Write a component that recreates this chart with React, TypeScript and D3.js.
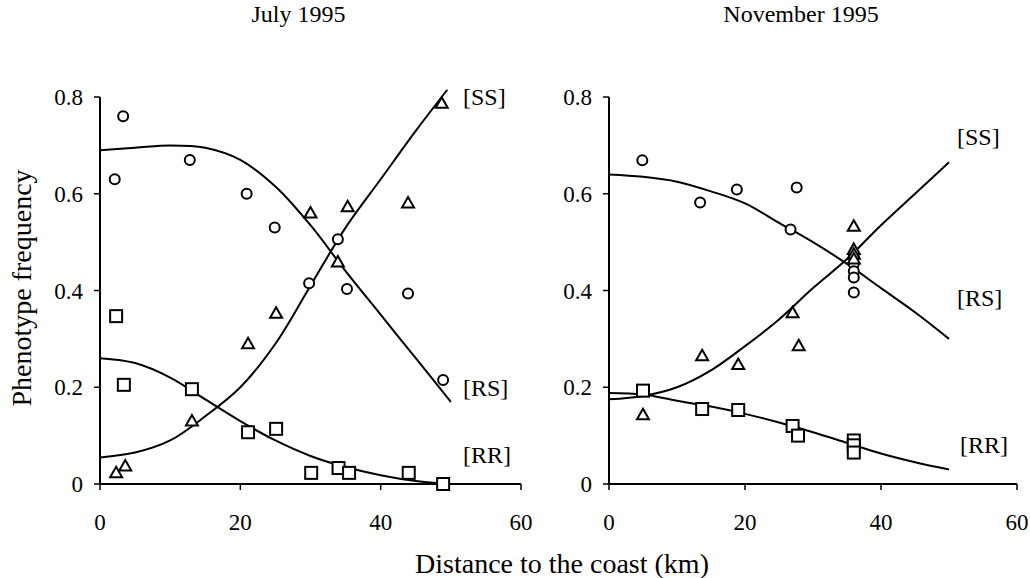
import React from "react";
import * as d3 from "d3";

// tick values
const xTicks = [0, 20, 40, 60];
const yTicks = [0, 0.2, 0.4, 0.6, 0.8];
const yTickLabels = ["0", "0.2", "0.4", "0.6", "0.8"];

// July 1995 observations [km, frequency]
const julyRS = [[2.1, 0.63], [3.3, 0.76], [12.8, 0.67], [20.9, 0.6], [24.9, 0.53], [29.8, 0.415], [33.9, 0.506], [35.2, 0.403], [43.9, 0.394], [48.9, 0.215]];
const julySS = [[2.3, 0.023], [3.6, 0.037], [13.1, 0.13], [21.1, 0.29], [25.1, 0.353], [30, 0.56], [33.9, 0.459], [35.3, 0.573], [43.9, 0.581], [48.7, 0.787]];
const julyRR = [[2.3, 0.347], [3.4, 0.205], [13.1, 0.196], [21.1, 0.107], [25.1, 0.114], [30.1, 0.023], [34, 0.033], [35.5, 0.023], [44, 0.023], [48.9, 0]];
// July fitted curves
const julyRSFit = [[0, 0.69], [5, 0.695], [10, 0.7], [15, 0.695], [20, 0.67], [25, 0.615], [30, 0.535], [35, 0.44], [40, 0.35], [45, 0.26], [50, 0.17]];
const julySSFit = [[0, 0.055], [5, 0.065], [10, 0.09], [15, 0.14], [20, 0.2], [25, 0.29], [30, 0.41], [35, 0.53], [40, 0.63], [45, 0.73], [49.5, 0.815]];
const julyRRFit = [[0, 0.26], [5, 0.25], [10, 0.22], [15, 0.175], [20, 0.13], [25, 0.09], [30, 0.058], [35, 0.035], [40, 0.018], [45, 0.006], [48, 0.002]];

// November 1995 observations
const novRS = [[4.9, 0.669], [13.4, 0.582], [18.8, 0.609], [27.6, 0.613], [26.7, 0.526], [36, 0.47], [36, 0.455], [36, 0.44], [36, 0.427], [36, 0.396]];
const novSS = [[5, 0.143], [13.7, 0.265], [19, 0.247], [27, 0.354], [27.9, 0.286], [36, 0.533], [36, 0.485], [36, 0.475], [36, 0.465]];
const novRR = [[5, 0.193], [13.7, 0.155], [19, 0.153], [27, 0.12], [27.8, 0.1], [36, 0.09], [36, 0.08], [36, 0.065]];
// November fitted curves
const novRSFit = [[0, 0.64], [5, 0.635], [10, 0.625], [15, 0.605], [20, 0.58], [25, 0.54], [30, 0.5], [35, 0.455], [40, 0.405], [45, 0.355], [50, 0.3]];
const novSSFit = [[0, 0.175], [5, 0.182], [10, 0.2], [15, 0.235], [20, 0.285], [25, 0.34], [30, 0.405], [35, 0.465], [40, 0.535], [45, 0.6], [50, 0.665]];
const novRRFit = [[0, 0.188], [5, 0.185], [10, 0.172], [15, 0.16], [20, 0.145], [25, 0.127], [30, 0.107], [35, 0.085], [40, 0.063], [45, 0.045], [50, 0.03]];

const FONT = "'Liberation Serif', 'Times New Roman', serif";

type Pt = number[];

function Panel(props: any) {
  const { x0, x1, title, rs, ss, rr, rsFit, ssFit, rrFit, labels } = props;
  const x = d3.scaleLinear().domain([0, 60]).range([x0, x1]);
  const y = d3.scaleLinear().domain([0, 0.8]).range([484, 97]);
  const line = d3
    .line<Pt>()
    .x((d) => x(d[0]))
    .y((d) => y(d[1]))
    .curve(d3.curveCatmullRom);

  return (
    <g>
      <text x={(x0 + x1) / 2 - 12} y={22} textAnchor="middle" fontSize={24}>
        {title}
      </text>
      {/* axes */}
      <line x1={x0} x2={x0} y1={y(0)} y2={y(0.8)} stroke="#000" strokeWidth={2} />
      <line x1={x0} x2={x1} y1={y(0)} y2={y(0)} stroke="#000" strokeWidth={2} />
      {yTicks.map((t, i) => (
        <g key={"y" + i}>
          <line x1={x0 - 6} x2={x0} y1={y(t)} y2={y(t)} stroke="#000" strokeWidth={1.5} />
          <text x={x0 - 17} y={y(t)} dy="0.35em" textAnchor="end" fontSize={23}>
            {yTickLabels[i]}
          </text>
        </g>
      ))}
      {xTicks.map((t) => (
        <g key={"x" + t}>
          <line x1={x(t)} x2={x(t)} y1={y(0)} y2={y(0) + 6} stroke="#000" strokeWidth={1.5} />
          <text x={x(t)} y={y(0) + 46} textAnchor="middle" fontSize={23}>
            {t}
          </text>
        </g>
      ))}
      {/* fitted curves */}
      {[rsFit, ssFit, rrFit].map((c, i) => (
        <path key={"c" + i} d={line(c) || ""} fill="none" stroke="#000" strokeWidth={2} />
      ))}
      {/* markers */}
      {rs.map((d: Pt, i: number) => (
        <circle key={"o" + i} cx={x(d[0])} cy={y(d[1])} r={5} fill="#fff" stroke="#000" strokeWidth={2} />
      ))}
      {ss.map((d: Pt, i: number) => (
        <path key={"t" + i} transform={`translate(${x(d[0])},${y(d[1])})`} d="M0,-6L6,4.5L-6,4.5Z" fill="#fff" stroke="#000" strokeWidth={2} />
      ))}
      {rr.map((d: Pt, i: number) => (
        <rect key={"s" + i} x={x(d[0]) - 6} y={y(d[1]) - 6} width={12} height={12} fill="#fff" stroke="#000" strokeWidth={2} />
      ))}
      {labels.map((l: any) => (
        <text key={l.text} x={l.x} y={l.y} dy="0.35em" fontSize={24}>
          {l.text}
        </text>
      ))}
    </g>
  );
}

export default function App() {
  return (
    <svg
      width={1030}
      height={578}
      style={{ position: "absolute", left: 0, top: 0, background: "#fff" }}
      fontFamily={FONT}
    >
      <Panel
        x0={100}
        x1={521}
        title="July 1995"
        rs={julyRS}
        ss={julySS}
        rr={julyRR}
        rsFit={julyRSFit}
        ssFit={julySSFit}
        rrFit={julyRRFit}
        labels={[
          { text: "[SS]", x: 463, y: 97 },
          { text: "[RS]", x: 463, y: 388 },
          { text: "[RR]", x: 463, y: 455 },
        ]}
      />
      <Panel
        x0={609}
        x1={1017}
        title="November 1995"
        rs={novRS}
        ss={novSS}
        rr={novRR}
        rsFit={novRSFit}
        ssFit={novSSFit}
        rrFit={novRRFit}
        labels={[
          { text: "[SS]", x: 957, y: 137 },
          { text: "[RS]", x: 957, y: 298 },
          { text: "[RR]", x: 960, y: 445 },
        ]}
      />
      <text
        transform="translate(31,288) rotate(-90)"
        textAnchor="middle"
        fontSize={28}
      >
        Phenotype frequency
      </text>
      <text x={562} y={573} textAnchor="middle" fontSize={28}>
        Distance to the coast (km)
      </text>
    </svg>
  );
}
